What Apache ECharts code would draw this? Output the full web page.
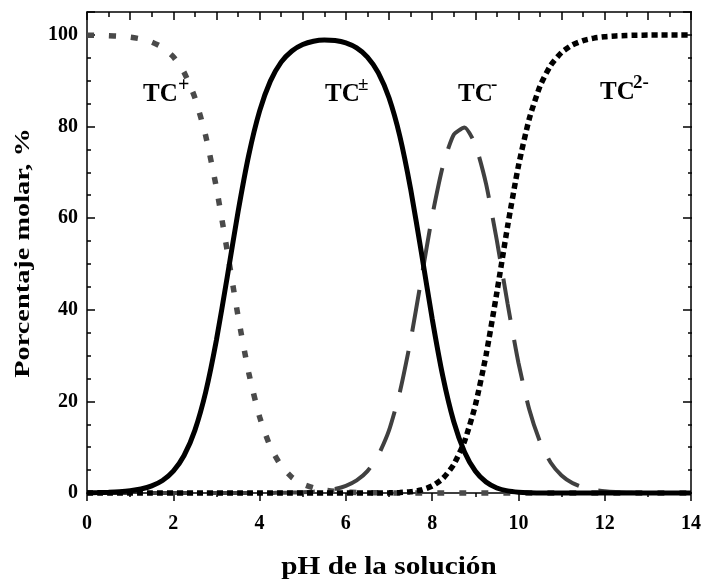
<!DOCTYPE html>
<html>
<head>
<meta charset="utf-8">
<script src="https://cdn.jsdelivr.net/npm/echarts@6/dist/echarts.min.js"></script>
<style>html,body{margin:0;padding:0;background:#fff;}#c{width:704px;height:581px;}</style>
</head>
<body>
<div id="c"></div>
<script>
// pH values (x)
var pH = [0,0.25,0.5,0.75,1,1.25,1.5,1.75,2,2.25,2.5,2.75,3,3.25,3.5,3.75,4,4.25,4.5,4.75,5,5.25,5.5,5.75,6,6.25,6.5,6.75,7,7.25,7.5,7.75,8,8.25,8.5,8.75,9,9.25,9.5,9.75,10,10.25,10.5,10.75,11,11.25,11.5,11.75,12,12.25,12.5,12.75,13,13.25,13.5,13.75,14];
// TC+ (cation), % molar
var tcPlus = [99.95,99.91,99.84,99.72,99.5,99.12,98.44,97.26,95.23,91.82,86.32,78.01,66.61,52.88,38.69,26.19,16.63,10.09,5.94,3.42,1.95,1.11,0.62,0.35,0.2,0.11,0.06,0.03,0.01,0,0,0,0,0,0,0,0,0,0,0,0,0,0,0,0,0,0,0,0,0,0,0,0,0,0,0,0];
// TC± (zwitterion), % molar
var tcZwitter = [0.05,0.09,0.16,0.28,0.5,0.88,1.56,2.74,4.77,8.18,13.68,21.99,33.39,47.12,61.31,73.81,83.37,89.91,94.06,96.49,97.89,98.62,98.88,98.77,98.25,97.15,95.17,91.78,86.27,77.93,66.43,52.52,38.10,25.36,15.60,8.95,4.80,2.39,1.10,0.46,0.18,0.06,0.02,0.01,0,0,0,0,0,0,0,0,0,0,0,0,0];
// TC- (anion), % molar
var tcMinus = [0,0,0,0,0,0,0,0,0,0,0,0,0,0,0,0,0.01,0.02,0.05,0.09,0.15,0.28,0.5,0.88,1.56,2.74,4.77,8.18,13.67,21.96,33.29,46.81,60.39,71.45,78.19,79.78,76.09,67.47,55.12,41.26,28.43,18.28,11.18,6.61,3.83,2.19,1.24,0.70,0.40,0.22,0.13,0.07,0.04,0.02,0.01,0.01,0];
// TC2- (dianion), % molar
var tcDi = [0,0,0,0,0,0,0,0,0,0,0,0,0,0,0,0,0,0,0,0,0,0,0,0,0,0,0,0.01,0.03,0.1,0.26,0.66,1.52,3.19,6.21,11.27,19.11,30.14,43.78,58.28,71.4,81.65,88.81,93.39,96.17,97.81,98.76,99.3,99.6,99.78,99.87,99.93,99.96,99.98,99.99,99.99,100];
var yTicks = [0,20,40,60,80,100];
var xTicks = [0,2,4,6,8,10,12,14];

function pairs(v){ return pH.map(function(x,i){ return [x, v[i]]; }); }

var FONT = 'Liberation Serif';
var chart = echarts.init(document.getElementById('c'), null, {renderer:'canvas'});
var axLine = {show:true, onZero:false, lineStyle:{color:'#000', width:1.5}};
var noLine = {show:false, onZero:false};
var tickStyle = {color:'#000', width:1.5};
var grid = {left:87, right:12, top:12, bottom:88};
var option = {
  backgroundColor:'#fff',
  animation:false,
  grid:[Object.assign({}, grid), Object.assign({}, grid)],
  xAxis:[
    {gridIndex:0, type:'value', position:'bottom', min:0, max:14, interval:2,
     axisLine:axLine, axisTick:{show:true, inside:false, length:8, lineStyle:tickStyle},
     minorTick:{show:true, splitNumber:2, length:4, lineStyle:tickStyle},
     splitLine:{show:false}, minorSplitLine:{show:false},
     axisLabel:{margin:21, color:'#000', fontFamily:FONT, fontWeight:'bold', fontSize:20,
       formatter:function(v){ return xTicks.indexOf(v) >= 0 ? String(v) : ''; }}},
    {gridIndex:0, type:'value', position:'top', min:0, max:14, interval:1,
     axisLine:axLine, axisTick:{show:true, inside:true, length:8, lineStyle:tickStyle},
     minorTick:{show:true, splitNumber:2, length:5, lineStyle:tickStyle},
     splitLine:{show:false}, axisLabel:{show:false}},
    {gridIndex:1, type:'value', min:0, max:14, show:false, axisLine:noLine}
  ],
  yAxis:[
    {gridIndex:0, type:'value', position:'left', min:0, max:105, interval:20,
     axisLine:axLine, axisTick:{show:true, inside:true, length:8, lineStyle:tickStyle},
     splitLine:{show:false},
     axisLabel:{margin:9, color:'#000', fontFamily:FONT, fontWeight:'bold', fontSize:20,
       formatter:function(v){ return yTicks.indexOf(v) >= 0 ? String(v) : ''; }}},
    {gridIndex:0, type:'value', position:'right', min:0, max:105, interval:20,
     axisLine:axLine, axisTick:{show:true, inside:true, length:8, lineStyle:tickStyle},
     splitLine:{show:false}, axisLabel:{show:false}},
    {gridIndex:1, type:'value', position:'left', min:0, max:105, interval:5,
     axisLine:noLine, axisTick:{show:true, inside:true, length:4, lineStyle:tickStyle},
     splitLine:{show:false}, axisLabel:{show:false}},
    {gridIndex:1, type:'value', position:'right', min:0, max:105, interval:5,
     axisLine:noLine, axisTick:{show:true, inside:true, length:4, lineStyle:tickStyle},
     splitLine:{show:false}, axisLabel:{show:false}}
  ],
  series:[
    {name:'TC+', type:'line', xAxisIndex:0, yAxisIndex:0, data:pairs(tcPlus), showSymbol:false, smooth:0.2, clip:false,
     lineStyle:{color:'#4a4a4a', width:5.5, type:[7,15], cap:'butt'}, z:2},
    {name:'TC-', type:'line', xAxisIndex:0, yAxisIndex:0, data:pairs(tcMinus), showSymbol:false, smooth:0.2, clip:false,
     lineStyle:{color:'#404040', width:4, type:[42,20], cap:'butt'}, z:3},
    {name:'TC2-', type:'line', xAxisIndex:0, yAxisIndex:0, data:pairs(tcDi), showSymbol:false, smooth:0.2, clip:false,
     lineStyle:{color:'#000', width:5.5, type:[6,4], cap:'butt'}, z:4},
    {name:'TC±', type:'line', xAxisIndex:0, yAxisIndex:0, data:pairs(tcZwitter), showSymbol:false, smooth:0.2, clip:false,
     lineStyle:{color:'#000', width:5, type:'solid'}, z:5}
  ],
  graphic:[
    // axis titles (stretched to match the wide original typeface)
    {type:'text', x:389, y:568, scaleX:1.17, scaleY:1,
     style:{text:'pH de la solución', fill:'#000', font:'bold 25px "Liberation Serif"', align:'center', verticalAlign:'middle'}},
    {type:'text', x:24, y:253, rotation:Math.PI/2, scaleX:1.35, scaleY:1,
     style:{text:'Porcentaje molar, %', fill:'#000', font:'bold 21px "Liberation Serif"', align:'center', verticalAlign:'middle'}},
    // species labels
    {type:'text', left:143, top:82, style:{text:'TC', fill:'#000', font:'bold 25px "Liberation Serif"'}},
    {type:'text', left:178, top:76, style:{text:'+', fill:'#000', font:'bold 20px "Liberation Serif"'}},
    {type:'text', left:325, top:82, style:{text:'TC', fill:'#000', font:'bold 25px "Liberation Serif"'}},
    {type:'text', left:358, top:76, style:{text:'±', fill:'#000', font:'bold 19px "Liberation Serif"'}},
    {type:'text', left:458, top:82, style:{text:'TC', fill:'#000', font:'bold 25px "Liberation Serif"'}},
    {type:'text', left:491, top:76, style:{text:'-', fill:'#000', font:'bold 19px "Liberation Serif"'}},
    {type:'text', left:600, top:80, style:{text:'TC', fill:'#000', font:'bold 25px "Liberation Serif"'}},
    {type:'text', left:633, top:74, style:{text:'2-', fill:'#000', font:'bold 19px "Liberation Serif"'}}
  ]
};
chart.setOption(option);
</script>
</body>
</html>
